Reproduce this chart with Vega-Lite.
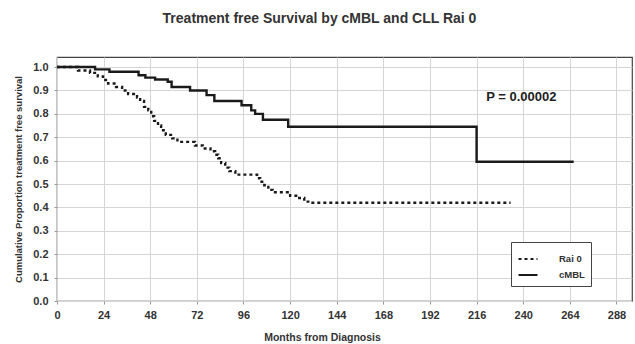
{
  "$schema": "https://vega.github.io/schema/vega-lite/v6.json",
  "width": 575,
  "height": 244,
  "autosize": {"type": "none"},
  "padding": {"left": 57, "top": 57, "right": 3, "bottom": 43},
  "background": "white",
  "config": {
    "font": "Liberation Sans",
    "view": {"stroke": "#444", "strokeWidth": 1.2},
    "axis": {
      "labelFont": "Liberation Sans",
      "labelFontWeight": "bold",
      "labelFontSize": 11,
      "labelColor": "#333",
      "labelOverlap": false,
      "labelFlush": false,
      "titleFont": "Liberation Sans",
      "titleFontWeight": "bold",
      "titleColor": "#333",
      "gridColor": "#d5d5d5",
      "gridWidth": 1,
      "domain": false,
      "tickColor": "#999",
      "tickSize": 3
    }
  },
  "title": {
    "text": "Treatment free Survival by cMBL and CLL Rai 0",
    "font": "Liberation Sans",
    "fontSize": 14,
    "fontWeight": "bold",
    "color": "#333",
    "anchor": "middle",
    "dx": -25,
    "offset": 31
  },
  "datasets": {
    "curves": [
      {"group": "Rai 0", "month": 0, "surv": 1.0},
      {"group": "Rai 0", "month": 10.8, "surv": 0.985},
      {"group": "Rai 0", "month": 17, "surv": 0.975},
      {"group": "Rai 0", "month": 21, "surv": 0.96},
      {"group": "Rai 0", "month": 23.7, "surv": 0.945},
      {"group": "Rai 0", "month": 26.3, "surv": 0.93},
      {"group": "Rai 0", "month": 30.4, "surv": 0.915},
      {"group": "Rai 0", "month": 33.5, "surv": 0.9},
      {"group": "Rai 0", "month": 36.6, "surv": 0.885},
      {"group": "Rai 0", "month": 41.2, "surv": 0.87},
      {"group": "Rai 0", "month": 42.8, "surv": 0.855},
      {"group": "Rai 0", "month": 44.8, "surv": 0.83},
      {"group": "Rai 0", "month": 47, "surv": 0.815},
      {"group": "Rai 0", "month": 48.5, "surv": 0.79},
      {"group": "Rai 0", "month": 50, "surv": 0.77},
      {"group": "Rai 0", "month": 52, "surv": 0.75},
      {"group": "Rai 0", "month": 53.6, "surv": 0.73},
      {"group": "Rai 0", "month": 56, "surv": 0.71},
      {"group": "Rai 0", "month": 59.3, "surv": 0.695},
      {"group": "Rai 0", "month": 62, "surv": 0.68},
      {"group": "Rai 0", "month": 71, "surv": 0.665},
      {"group": "Rai 0", "month": 75, "surv": 0.652},
      {"group": "Rai 0", "month": 79, "surv": 0.64},
      {"group": "Rai 0", "month": 81.4, "surv": 0.625},
      {"group": "Rai 0", "month": 83, "surv": 0.61},
      {"group": "Rai 0", "month": 84.5, "surv": 0.59},
      {"group": "Rai 0", "month": 86.6, "surv": 0.57},
      {"group": "Rai 0", "month": 88.7, "surv": 0.555},
      {"group": "Rai 0", "month": 91.8, "surv": 0.54},
      {"group": "Rai 0", "month": 103, "surv": 0.525},
      {"group": "Rai 0", "month": 104.6, "surv": 0.51},
      {"group": "Rai 0", "month": 106.7, "surv": 0.495},
      {"group": "Rai 0", "month": 108.8, "surv": 0.475},
      {"group": "Rai 0", "month": 111, "surv": 0.465},
      {"group": "Rai 0", "month": 120, "surv": 0.45},
      {"group": "Rai 0", "month": 124, "surv": 0.44},
      {"group": "Rai 0", "month": 127.3, "surv": 0.425},
      {"group": "Rai 0", "month": 130, "surv": 0.42},
      {"group": "Rai 0", "month": 233.5, "surv": 0.42},
      {"group": "cMBL", "month": 0, "surv": 1.0},
      {"group": "cMBL", "month": 19.6, "surv": 0.99},
      {"group": "cMBL", "month": 27, "surv": 0.98},
      {"group": "cMBL", "month": 42, "surv": 0.965},
      {"group": "cMBL", "month": 45.5, "surv": 0.955},
      {"group": "cMBL", "month": 50.5, "surv": 0.947},
      {"group": "cMBL", "month": 57, "surv": 0.937},
      {"group": "cMBL", "month": 59, "surv": 0.915},
      {"group": "cMBL", "month": 68.5, "surv": 0.9},
      {"group": "cMBL", "month": 77, "surv": 0.88},
      {"group": "cMBL", "month": 81, "surv": 0.855},
      {"group": "cMBL", "month": 95, "surv": 0.837},
      {"group": "cMBL", "month": 100, "surv": 0.815},
      {"group": "cMBL", "month": 102, "surv": 0.8},
      {"group": "cMBL", "month": 106, "surv": 0.775},
      {"group": "cMBL", "month": 119, "surv": 0.745},
      {"group": "cMBL", "month": 216, "surv": 0.595},
      {"group": "cMBL", "month": 266, "surv": 0.595}
    ],
    "annotation": [
      {"month": 239, "surv": 0.87, "label": "P = 0.00002"}
    ]
  },
  "encoding": {
    "x": {
      "field": "month",
      "type": "quantitative",
      "scale": {"domain": [0, 296], "nice": false, "zero": true},
      "axis": {
        "title": "Months from Diagnosis",
        "titleFontSize": 10.5,
        "titlePadding": 12,
        "titleX": 265,
        "titleAlign": "center",
        "values": [0, 24, 48, 72, 96, 120, 144, 168, 192, 216, 240, 264, 288],
        "labelPadding": 5
      }
    },
    "y": {
      "field": "surv",
      "type": "quantitative",
      "scale": {"domain": [0, 1.043], "nice": false},
      "axis": {
        "title": "Cumulative Proportion treatment free survival",
        "titleFontSize": 9.5,
        "titlePadding": 9,
        "values": [0, 0.1, 0.2, 0.3, 0.4, 0.5, 0.6, 0.7, 0.8, 0.9, 1.0],
        "labelOverlap": false,
        "format": ".1f",
        "labelPadding": 6
      }
    }
  },
  "layer": [
    {
      "data": {"name": "curves"},
      "mark": {"type": "line", "interpolate": "step-after", "color": "#1a1a1a", "strokeWidth": 2.4},
      "encoding": {
        "detail": {"field": "group"},
        "strokeDash": {
          "field": "group",
          "type": "nominal",
          "scale": {"domain": ["Rai 0", "cMBL"], "range": [[3, 3], [1, 0]]},
          "legend": {
            "title": null,
            "orient": "none",
            "legendX": 454,
            "legendY": 185,
            "strokeColor": "#444",
            "fillColor": "white",
            "padding": 6,
            "symbolType": "stroke",
            "symbolStrokeColor": "#1a1a1a",
            "symbolStrokeWidth": 2.2,
            "symbolSize": 360,
            "labelFont": "Liberation Sans",
            "labelFontWeight": "bold",
            "labelFontSize": 9.5,
            "labelColor": "#333",
            "labelOffset": 20,
            "labelLimit": 80,
            "rowPadding": 0
          }
        }
      }
    },
    {
      "data": {"name": "annotation"},
      "mark": {"type": "text", "font": "Liberation Sans", "fontWeight": "bold", "fontSize": 13, "color": "#222", "align": "center", "baseline": "middle"},
      "encoding": {
        "text": {"field": "label"}
      }
    }
  ]
}
